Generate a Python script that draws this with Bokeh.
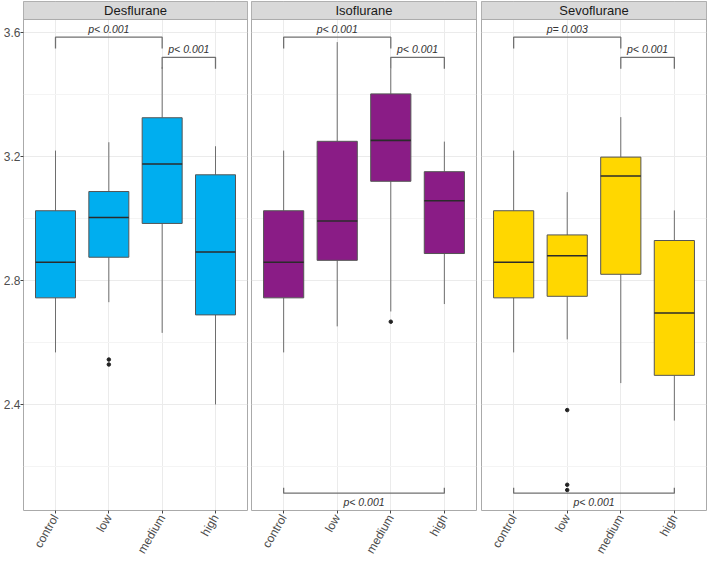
import math
from bokeh.plotting import figure
from bokeh.layouts import row
from bokeh.models import Range1d, FixedTicker, Grid
from bokeh.core.properties import value
from bokeh.embed import file_html
from bokeh.resources import INLINE

# ---------------- data ----------------
groups = ["control", "low", "medium", "high"]
agents = ["Desflurane", "Isoflurane", "Sevoflurane"]
fill_colors = ["#00AEEF", "#8A1C86", "#FFD700"]

whisker_low = {
    "Desflurane": [2.568, 2.730, 2.631, 2.400],
    "Isoflurane": [2.568, 2.652, 2.700, 2.724],
    "Sevoflurane": [2.568, 2.610, 2.469, 2.348],
}
q1 = {
    "Desflurane": [2.744, 2.875, 2.984, 2.689],
    "Isoflurane": [2.744, 2.865, 3.120, 2.887],
    "Sevoflurane": [2.744, 2.749, 2.820, 2.494],
}
median = {
    "Desflurane": [2.859, 3.003, 3.176, 2.892],
    "Isoflurane": [2.859, 2.992, 3.252, 3.057],
    "Sevoflurane": [2.859, 2.880, 3.137, 2.695],
}
q3 = {
    "Desflurane": [3.025, 3.087, 3.325, 3.141],
    "Isoflurane": [3.025, 3.249, 3.402, 3.151],
    "Sevoflurane": [3.025, 2.947, 3.198, 2.929],
}
whisker_high = {
    "Desflurane": [3.219, 3.246, 3.488, 3.233],
    "Isoflurane": [3.219, 3.569, 3.483, 3.248],
    "Sevoflurane": [3.219, 3.085, 3.327, 3.026],
}

outlier_agent = ["Desflurane", "Desflurane", "Isoflurane", "Sevoflurane", "Sevoflurane", "Sevoflurane"]
outlier_group = ["low", "low", "medium", "low", "low", "low"]
outlier_value = [2.545, 2.529, 2.667, 2.382, 2.141, 2.124]

bracket_agent = ["Desflurane", "Desflurane", "Isoflurane", "Isoflurane", "Isoflurane",
                 "Sevoflurane", "Sevoflurane", "Sevoflurane"]
bracket_from = ["control", "medium", "control", "medium", "control", "control", "medium", "control"]
bracket_to = ["medium", "high", "medium", "high", "high", "medium", "high", "high"]
bracket_y = [3.585, 3.520, 3.585, 3.520, 2.114, 3.585, 3.520, 2.114]
bracket_label = ["p< 0.001", "p< 0.001", "p< 0.001", "p< 0.001", "p< 0.001",
                 "p= 0.003", "p< 0.001", "p< 0.001"]

y_ticks = [2.4, 2.8, 3.2, 3.6]
y_minor = [2.2, 2.6, 3.0, 3.4]

# ---------------- layout constants ----------------
Y_MIN, PANEL_TOP, Y_MAX = 2.058, 3.642, 3.700
FONT = "Liberation Sans"
BOX_W = 0.75
FIG_W = [249, 229, 230]
BORDER_L = [22, 2, 3]

pos = {g: i + 1 for i, g in enumerate(groups)}


def make_panel(k, agent):
    first = k == 0
    p = figure(width=FIG_W[k], height=562,
               x_range=Range1d(0.4, 4.6), y_range=Range1d(Y_MIN, Y_MAX),
               output_backend="svg", toolbar_location=None,
               y_axis_location="left" if first else None,
               min_border_left=BORDER_L[k], min_border_right=2,
               min_border_top=1, min_border_bottom=46)
    p.background_fill_color = "white"
    p.border_fill_color = "white"
    p.outline_line_color = "#AAAAAA"
    p.outline_line_width = 1

    # grids
    p.xgrid.ticker = FixedTicker(ticks=[pos[g] for g in groups])
    p.xgrid.grid_line_color = "#EBEBEB"
    if len(p.ygrid) == 0:
        p.add_layout(Grid(dimension=1, ticker=FixedTicker(ticks=y_ticks, minor_ticks=y_minor)), "center")
    p.ygrid.ticker = FixedTicker(ticks=y_ticks, minor_ticks=y_minor)
    p.ygrid.grid_line_color = "#EBEBEB"
    p.ygrid.minor_grid_line_color = "#F4F4F4"

    # axes
    p.xaxis.ticker = FixedTicker(ticks=[pos[g] for g in groups])
    p.xaxis.major_label_overrides = {pos[g]: g for g in groups}
    p.xaxis.major_label_orientation = math.pi / 3
    p.xaxis.axis_line_color = None
    p.xaxis.major_tick_line_color = "#444444"
    p.xaxis.major_tick_out = 3
    p.xaxis.major_tick_in = 0
    p.xaxis.minor_tick_line_color = None
    p.xaxis.major_label_text_font = FONT
    p.xaxis.major_label_text_font_size = "12px"
    p.xaxis.major_label_text_color = "#4D4D4D"
    p.xaxis.major_label_standoff = 2
    if first:
        p.yaxis.ticker = FixedTicker(ticks=y_ticks)
        p.yaxis.axis_line_color = None
        p.yaxis.major_tick_line_color = "#444444"
        p.yaxis.major_tick_out = 3
        p.yaxis.major_tick_in = 0
        p.yaxis.minor_tick_line_color = None
        p.yaxis.major_label_text_font = FONT
        p.yaxis.major_label_text_font_size = "12px"
        p.yaxis.major_label_text_color = "#4D4D4D"
        p.yaxis.major_label_standoff = 0

    xs = [pos[g] for g in groups]
    lo, a, m, b, hi = whisker_low[agent], q1[agent], median[agent], q3[agent], whisker_high[agent]

    # whiskers
    p.segment(x0=xs, x1=xs, y0=b, y1=hi, line_color="#6E6E6E", line_width=1)
    p.segment(x0=xs, x1=xs, y0=lo, y1=a, line_color="#6E6E6E", line_width=1)
    # boxes
    p.vbar(x=xs, width=BOX_W, bottom=a, top=b, fill_color=fill_colors[k],
           line_color="#555555", line_width=1)
    # medians
    p.segment(x0=[x - BOX_W / 2 for x in xs], x1=[x + BOX_W / 2 for x in xs],
              y0=m, y1=m, line_color="#2B2B2B", line_width=1.6)

    # outliers
    ox = [pos[g] for ag, g in zip(outlier_agent, outlier_group) if ag == agent]
    oy = [v for ag, v in zip(outlier_agent, outlier_value) if ag == agent]
    if ox:
        p.scatter(x=ox, y=oy, size=3.5, fill_color="#222222", line_color="#222222")

    # significance brackets
    for ag, g0, g1, y, lab in zip(bracket_agent, bracket_from, bracket_to, bracket_y, bracket_label):
        if ag != agent:
            continue
        x0, x1 = pos[g0], pos[g1]
        top = y > 3.0
        tip = -0.037 if top else 0.017
        p.line(x=[x0, x0, x1, x1], y=[y + tip, y, y, y + tip], line_color="#707070", line_width=1.3)
        p.text(x=[(x0 + x1) / 2], y=[y + 0.008 if top else y - 0.008], text=[lab],
               text_align="center", text_baseline="bottom" if top else "top",
               text_font=value(FONT), text_font_style="italic", text_font_size="10.5px",
               text_color="#333333")

    # facet strip
    p.quad(left=[0.4], right=[4.6], bottom=[PANEL_TOP], top=[Y_MAX],
           fill_color="#D9D9D9", line_color="#AAAAAA", line_width=1)
    p.text(x=[2.5], y=[(PANEL_TOP + Y_MAX) / 2], text=[agent], text_align="center",
           text_baseline="middle", text_font=value(FONT), text_font_size="13px",
           text_color="#1A1A1A")
    return p


panels = [make_panel(k, ag) for k, ag in enumerate(agents)]
layout = row(*panels)

open("out.html", "w").write(file_html(layout, INLINE))
